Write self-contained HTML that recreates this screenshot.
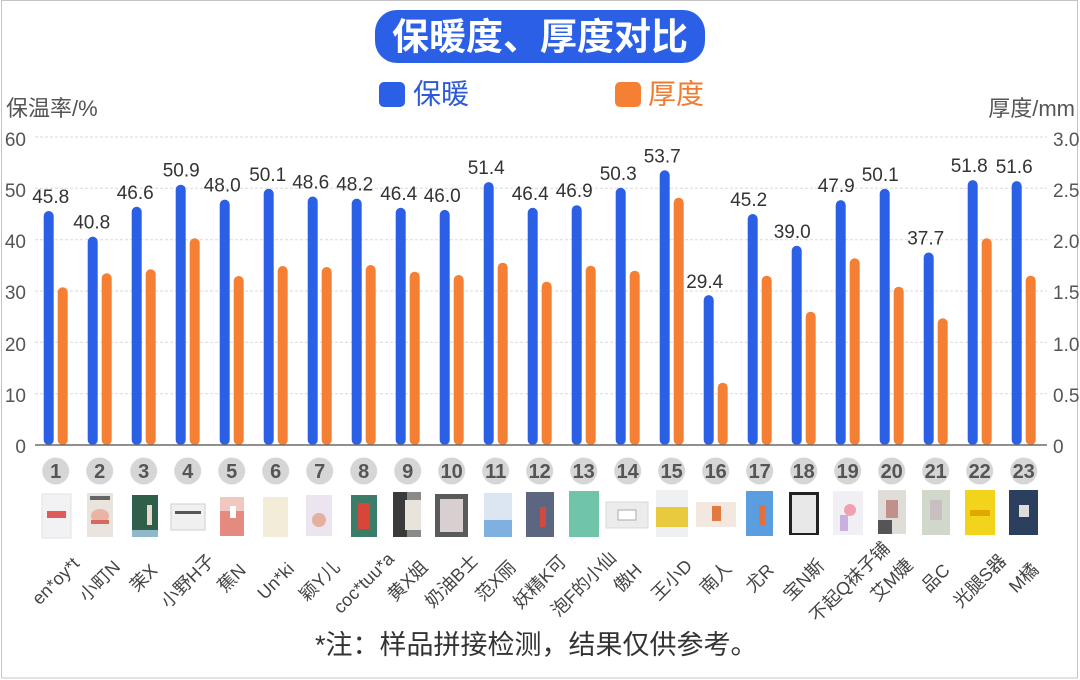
<!DOCTYPE html>
<html>
<head>
<meta charset="utf-8">
<style>
html,body{margin:0;padding:0;background:#fff;}
svg{display:block;}
text{font-family:"Liberation Sans","Noto Sans CJK SC",sans-serif;}
</style>
</head>
<body>
<svg width="1080" height="680" viewBox="0 0 1080 680" xmlns="http://www.w3.org/2000/svg">
<rect x="0" y="0" width="1080" height="680" fill="#fff"/>
<rect x="1.5" y="0.5" width="1076" height="677.5" fill="none" stroke="#c4c4c4" stroke-width="1"/>

<!-- Title -->
<rect x="375" y="10" width="330" height="53" rx="22" fill="#2B60E6"/>
<text x="540" y="37" text-anchor="middle" dominant-baseline="central" font-size="37" font-weight="bold" fill="#fff">保暖度、厚度对比</text>

<!-- Legend -->
<rect x="379" y="82" width="26" height="25" rx="5" fill="#2B60E6"/>
<text x="413" y="94" dominant-baseline="central" font-size="28" fill="#2C5BD5">保暖</text>
<rect x="615" y="82" width="26" height="25" rx="5" fill="#F57F32"/>
<text x="648" y="94" dominant-baseline="central" font-size="28" fill="#F27A2E">厚度</text>

<!-- Axis titles -->
<text x="6" y="116" font-size="22" fill="#555">保温率/%</text>
<text x="1075" y="116" text-anchor="end" font-size="22" fill="#555">厚度/mm</text>

<!-- Gridlines -->
<g stroke="#d9d9d9" stroke-width="1" stroke-dasharray="3 2">
<line x1="35" y1="137" x2="1047" y2="137"/>
<line x1="35" y1="188.3" x2="1047" y2="188.3"/>
<line x1="35" y1="239.7" x2="1047" y2="239.7"/>
<line x1="35" y1="291" x2="1047" y2="291"/>
<line x1="35" y1="342.3" x2="1047" y2="342.3"/>
<line x1="35" y1="393.7" x2="1047" y2="393.7"/>
</g>

<!-- Left tick labels -->
<g font-size="19" fill="#555" text-anchor="end">
<text x="26" y="146">60</text>
<text x="26" y="197">50</text>
<text x="26" y="248">40</text>
<text x="26" y="299">30</text>
<text x="26" y="351">20</text>
<text x="26" y="402">10</text>
<text x="26" y="453">0</text>
</g>
<!-- Right tick labels -->
<g font-size="19" fill="#555">
<text x="1053" y="146">3.0</text>
<text x="1053" y="197">2.5</text>
<text x="1053" y="248">2.0</text>
<text x="1053" y="299">1.5</text>
<text x="1053" y="351">1.0</text>
<text x="1053" y="402">0.5</text>
<text x="1053" y="453">0</text>
</g>

<!-- Blue bars -->
<g fill="#2B60E6">
<rect x="43.7" y="211" width="10" height="234" rx="5"/>
<rect x="87.7" y="236.6" width="10" height="208.4" rx="5"/>
<rect x="131.7" y="206.8" width="10" height="238.2" rx="5"/>
<rect x="175.7" y="184.7" width="10" height="260.3" rx="5"/>
<rect x="219.7" y="199.6" width="10" height="245.4" rx="5"/>
<rect x="263.7" y="188.8" width="10" height="256.2" rx="5"/>
<rect x="307.7" y="196.5" width="10" height="248.5" rx="5"/>
<rect x="351.7" y="198.6" width="10" height="246.4" rx="5"/>
<rect x="395.7" y="207.8" width="10" height="237.2" rx="5"/>
<rect x="439.7" y="209.9" width="10" height="235.1" rx="5"/>
<rect x="483.7" y="182.1" width="10" height="262.9" rx="5"/>
<rect x="527.7" y="207.8" width="10" height="237.2" rx="5"/>
<rect x="571.7" y="205.2" width="10" height="239.8" rx="5"/>
<rect x="615.7" y="187.8" width="10" height="257.2" rx="5"/>
<rect x="659.7" y="170.3" width="10" height="274.7" rx="5"/>
<rect x="703.7" y="295.1" width="10" height="149.9" rx="5"/>
<rect x="747.7" y="214" width="10" height="231" rx="5"/>
<rect x="791.7" y="245.8" width="10" height="199.2" rx="5"/>
<rect x="835.7" y="200.1" width="10" height="244.9" rx="5"/>
<rect x="879.7" y="188.8" width="10" height="256.2" rx="5"/>
<rect x="923.7" y="252.5" width="10" height="192.5" rx="5"/>
<rect x="967.7" y="180.1" width="10" height="264.9" rx="5"/>
<rect x="1011.7" y="181.1" width="10" height="263.9" rx="5"/>
</g>

<!-- Orange bars -->
<g fill="#F57F32">
<rect x="57.7" y="287.3" width="10" height="157.7" rx="5"/>
<rect x="101.7" y="273.3" width="10" height="171.7" rx="5"/>
<rect x="145.7" y="269.3" width="10" height="175.7" rx="5"/>
<rect x="189.7" y="238.3" width="10" height="206.7" rx="5"/>
<rect x="233.7" y="276" width="10" height="169" rx="5"/>
<rect x="277.7" y="266" width="10" height="179" rx="5"/>
<rect x="321.7" y="267" width="10" height="178" rx="5"/>
<rect x="365.7" y="265" width="10" height="180" rx="5"/>
<rect x="409.7" y="271.7" width="10" height="173.3" rx="5"/>
<rect x="453.7" y="275" width="10" height="170" rx="5"/>
<rect x="497.7" y="262.7" width="10" height="182.3" rx="5"/>
<rect x="541.7" y="281.7" width="10" height="163.3" rx="5"/>
<rect x="585.7" y="265.7" width="10" height="179.3" rx="5"/>
<rect x="629.7" y="270.7" width="10" height="174.3" rx="5"/>
<rect x="673.7" y="197.7" width="10" height="247.3" rx="5"/>
<rect x="717.7" y="382.7" width="10" height="62.3" rx="5"/>
<rect x="761.7" y="275.7" width="10" height="169.3" rx="5"/>
<rect x="805.7" y="311.7" width="10" height="133.3" rx="5"/>
<rect x="849.7" y="258.3" width="10" height="186.7" rx="5"/>
<rect x="893.7" y="286.7" width="10" height="158.3" rx="5"/>
<rect x="937.7" y="318.3" width="10" height="126.7" rx="5"/>
<rect x="981.7" y="238.3" width="10" height="206.7" rx="5"/>
<rect x="1025.7" y="275.7" width="10" height="169.3" rx="5"/>
</g>

<!-- Axis baseline -->
<line x1="35" y1="445" x2="1047" y2="445" stroke="#6a6a6a" stroke-width="1.5"/>

<!-- Value labels -->
<g font-size="19" fill="#333" text-anchor="middle">
<text x="50.7" y="203">45.8</text>
<text x="91.7" y="228.6">40.8</text>
<text x="135.2" y="198.8">46.6</text>
<text x="181.2" y="176.7">50.9</text>
<text x="222.2" y="191.6">48.0</text>
<text x="267.7" y="180.8">50.1</text>
<text x="310.7" y="188.5">48.6</text>
<text x="354.7" y="190.6">48.2</text>
<text x="398.7" y="199.8">46.4</text>
<text x="442.2" y="201.9">46.0</text>
<text x="486.2" y="174.1">51.4</text>
<text x="530.2" y="199.8">46.4</text>
<text x="574.2" y="197.2">46.9</text>
<text x="618.2" y="179.8">50.3</text>
<text x="662.2" y="162.3">53.7</text>
<text x="704.7" y="288.1">29.4</text>
<text x="748.7" y="206">45.2</text>
<text x="792.2" y="237.8">39.0</text>
<text x="836.2" y="192.1">47.9</text>
<text x="880.2" y="180.8">50.1</text>
<text x="925.7" y="244.5">37.7</text>
<text x="969.2" y="172.1">51.8</text>
<text x="1014.2" y="173.1">51.6</text>
</g>

<!-- Number circles -->
<g fill="#d6d6d6">
<circle cx="55.7" cy="471" r="13.5"/><circle cx="99.7" cy="471" r="13.5"/><circle cx="143.7" cy="471" r="13.5"/><circle cx="187.7" cy="471" r="13.5"/>
<circle cx="231.7" cy="471" r="13.5"/><circle cx="275.7" cy="471" r="13.5"/><circle cx="319.7" cy="471" r="13.5"/><circle cx="363.7" cy="471" r="13.5"/>
<circle cx="407.7" cy="471" r="13.5"/><circle cx="451.7" cy="471" r="13.5"/><circle cx="495.7" cy="471" r="13.5"/><circle cx="539.7" cy="471" r="13.5"/>
<circle cx="583.7" cy="471" r="13.5"/><circle cx="627.7" cy="471" r="13.5"/><circle cx="671.7" cy="471" r="13.5"/><circle cx="715.7" cy="471" r="13.5"/>
<circle cx="759.7" cy="471" r="13.5"/><circle cx="803.7" cy="471" r="13.5"/><circle cx="847.7" cy="471" r="13.5"/><circle cx="891.7" cy="471" r="13.5"/>
<circle cx="935.7" cy="471" r="13.5"/><circle cx="979.7" cy="471" r="13.5"/><circle cx="1023.7" cy="471" r="13.5"/>
</g>
<g font-size="20" font-weight="bold" fill="#555" text-anchor="middle">
<text x="55.7" y="478">1</text><text x="99.7" y="478">2</text><text x="143.7" y="478">3</text><text x="187.7" y="478">4</text>
<text x="231.7" y="478">5</text><text x="275.7" y="478">6</text><text x="319.7" y="478">7</text><text x="363.7" y="478">8</text>
<text x="407.7" y="478">9</text><text x="451.7" y="478">10</text><text x="495.7" y="478">11</text><text x="539.7" y="478">12</text>
<text x="583.7" y="478">13</text><text x="627.7" y="478">14</text><text x="671.7" y="478">15</text><text x="715.7" y="478">16</text>
<text x="759.7" y="478">17</text><text x="803.7" y="478">18</text><text x="847.7" y="478">19</text><text x="891.7" y="478">20</text>
<text x="935.7" y="478">21</text><text x="979.7" y="478">22</text><text x="1023.7" y="478">23</text>
</g>

<!-- Product thumbnails -->
<g>
<rect x="42" y="494" width="29" height="44" fill="#f2f2f4" stroke="#e2e2e2"/>
<rect x="47" y="511" width="19" height="7" fill="#e05a5a"/>

<rect x="87" y="493" width="26" height="44" fill="#e9e4dd"/>
<rect x="90" y="496" width="20" height="4" fill="#666"/>
<ellipse cx="100" cy="516" rx="9" ry="7" fill="#e9b3a5"/>
<rect x="91" y="520" width="18" height="4" fill="#d9685e"/>

<rect x="132" y="495" width="26" height="42" fill="#2f5e4a"/>
<rect x="147" y="505" width="5" height="20" fill="#e8d8d0"/>
<rect x="132" y="530" width="26" height="7" fill="#8fb8c8"/>

<rect x="171" y="504" width="34" height="26" fill="#f0f0f0" stroke="#cfcfcf"/>
<rect x="175" y="511" width="26" height="3" fill="#555"/>

<rect x="220" y="497" width="24" height="39" fill="#e48a7e"/>
<rect x="220" y="497" width="24" height="14" fill="#f0c8c0"/>
<rect x="230" y="506" width="6" height="12" fill="#fff"/>

<rect x="263" y="497" width="25" height="40" fill="#f3ecd9"/>

<rect x="306" y="495" width="26" height="41" fill="#ece4ee"/>
<circle cx="319" cy="520" r="7" fill="#e4b0a0"/>

<rect x="351" y="495" width="26" height="42" fill="#3b7d68"/>
<rect x="358" y="503" width="12" height="26" fill="#d8463a"/>

<rect x="393" y="492" width="28" height="45" fill="#8a8a88"/>
<rect x="393" y="492" width="14" height="45" fill="#3a3a3a"/>
<rect x="405" y="500" width="16" height="30" fill="#e8e4dc"/>

<rect x="435" y="494" width="33" height="43" fill="#5a5a5a"/>
<rect x="440" y="499" width="23" height="33" fill="#d8d0d0"/>

<rect x="484" y="493" width="28" height="44" fill="#dbe6f2"/>
<rect x="484" y="520" width="28" height="17" fill="#7fb0e0"/>

<rect x="526" y="492" width="28" height="45" fill="#5d6680"/>
<rect x="540" y="507" width="6" height="20" fill="#d04a40"/>

<rect x="569" y="491" width="30" height="46" fill="#70c4aa"/>

<rect x="606" y="502" width="42" height="26" fill="#ececec" stroke="#d8d8d8"/>
<rect x="618" y="510" width="18" height="10" fill="#fff" stroke="#aaa"/>

<rect x="656" y="490" width="32" height="47" fill="#eef0f2"/>
<rect x="656" y="507" width="32" height="20" fill="#e9c93e"/>

<rect x="696" y="502" width="40" height="25" fill="#f2e8e0"/>
<rect x="712" y="506" width="9" height="15" fill="#e07a40"/>

<rect x="746" y="491" width="27" height="45" fill="#5b9ee0"/>
<rect x="759" y="505" width="6" height="20" fill="#e07040"/>

<rect x="789" y="492" width="30" height="43" fill="#222"/>
<rect x="792" y="495" width="24" height="38" fill="#e8e8e8"/>

<rect x="833" y="491" width="30" height="44" fill="#f0f0f4"/>
<circle cx="850" cy="510" r="6" fill="#f0a0b0"/>
<rect x="840" y="515" width="8" height="16" fill="#c8b0e0"/>

<rect x="878" y="490" width="28" height="44" fill="#e0dcd8"/>
<rect x="886" y="500" width="12" height="18" fill="#c0908a"/>
<rect x="878" y="520" width="14" height="14" fill="#555"/>

<rect x="922" y="490" width="28" height="45" fill="#d0d8cc"/>
<rect x="930" y="500" width="12" height="20" fill="#c8c0c0"/>

<rect x="965" y="490" width="30" height="45" fill="#f2d41c"/>
<rect x="970" y="510" width="20" height="6" fill="#e0a800"/>

<rect x="1009" y="490" width="29" height="45" fill="#2d3f5e"/>
<rect x="1019" y="505" width="10" height="12" fill="#ddd"/>
</g>

<!-- Category labels -->
<g font-size="18" fill="#444" text-anchor="middle" dominant-baseline="central">
<text x="55.7" y="581" transform="rotate(-45 55.7 581)">en*oy*t</text>
<text x="99.7" y="581" transform="rotate(-45 99.7 581)">小町N</text>
<text x="143.7" y="578" transform="rotate(-45 143.7 578)">茉X</text>
<text x="187.7" y="581" transform="rotate(-45 187.7 581)">小野H子</text>
<text x="231.7" y="578" transform="rotate(-45 231.7 578)">蕉N</text>
<text x="275.7" y="581" transform="rotate(-45 275.7 581)">Un*ki</text>
<text x="319.7" y="581" transform="rotate(-45 319.7 581)">颖Y儿</text>
<text x="363.7" y="583" transform="rotate(-45 363.7 583)">coc*tuu*a</text>
<text x="407.7" y="581" transform="rotate(-45 407.7 581)">黄X姐</text>
<text x="451.7" y="581" transform="rotate(-45 451.7 581)">奶油B士</text>
<text x="495.7" y="581" transform="rotate(-45 495.7 581)">范X丽</text>
<text x="539.7" y="582" transform="rotate(-45 539.7 582)">妖精K可</text>
<text x="583.7" y="584" transform="rotate(-45 583.7 584)">泡F的小仙</text>
<text x="627.7" y="578" transform="rotate(-45 627.7 578)">傲H</text>
<text x="671.7" y="580" transform="rotate(-45 671.7 580)">王小D</text>
<text x="715.7" y="578" transform="rotate(-45 715.7 578)">南人</text>
<text x="759.7" y="578" transform="rotate(-45 759.7 578)">尤R</text>
<text x="803.7" y="580" transform="rotate(-45 803.7 580)">宝N斯</text>
<text x="849.7" y="582" transform="rotate(-45 849.7 582)">不起Q袜子铺</text>
<text x="891.7" y="580" transform="rotate(-45 891.7 580)">艾M婕</text>
<text x="935.7" y="578" transform="rotate(-45 935.7 578)">品C</text>
<text x="979.7" y="581" transform="rotate(-45 979.7 581)">光腿S器</text>
<text x="1023.7" y="578" transform="rotate(-45 1023.7 578)">M橘</text>
</g>

<!-- Footnote -->
<text x="315" y="645" dominant-baseline="central" font-size="27" fill="#333">*注：样品拼接检测，结果仅供参考。</text>
</svg>
</body>
</html>
